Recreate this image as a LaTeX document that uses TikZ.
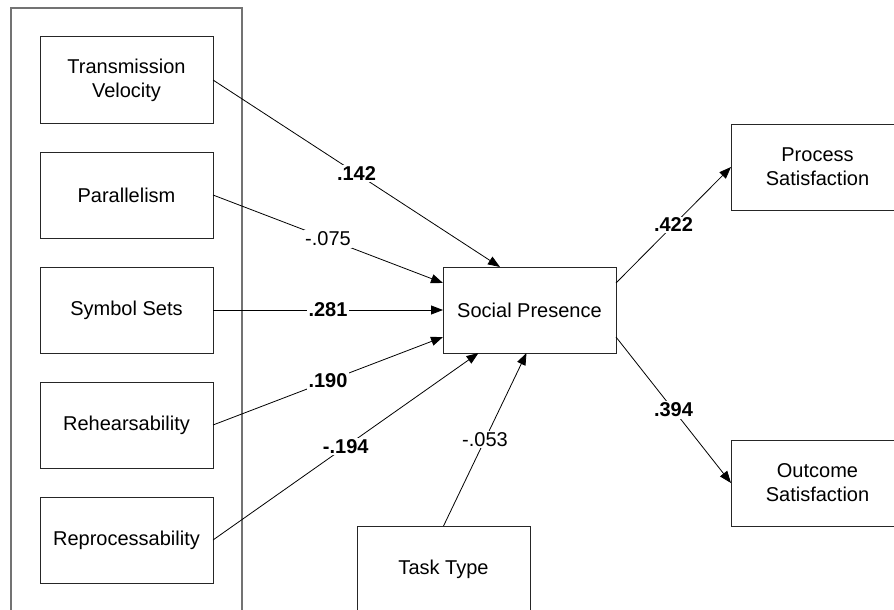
\documentclass[tikz,border=0pt]{standalone}
\usepackage{fontspec}
\setmainfont{Liberation Sans}
\usetikzlibrary{arrows.meta,fit,positioning}
\tikzset{
    %Define standard arrow tip
    >={Triangle[length=12pt,width=9pt]},
    %Define style for boxes
    construct/.style={
           rectangle,
           draw=black!85, line width=1pt,
           minimum width=173pt,
           minimum height=86pt,
           inner sep=0pt, outer sep=0pt,
           align=center,
           font=\fontsize{20}{24}\selectfont},
    %Define style for the surrounding frame
    mediaframe/.style={
           rectangle,
           draw=black!55, line width=1.4pt,
           inner sep=29pt},
    %Define style for path coefficients
    coef/.style={
           fill=white,
           inner sep=1.5pt,
           font=\fontsize{20}{24}\selectfont},
    coefbold/.style={
           coef,
           font=\fontsize{20}{24}\selectfont\bfseries},
    % Define arrow style
    link/.style={
           ->,
           line width=0.8pt,
           draw=black}
}
\begin{document}
\begin{tikzpicture}[node distance=29pt]
\useasboundingbox (0pt,0pt) rectangle (894pt,-610pt);
\clip (0pt,0pt) rectangle (894pt,-610pt);
 %nodes
\node[construct] (tv) at (126.5pt,-80pt) {Transmission\\Velocity};
\node[construct, below=of tv] (par) {Parallelism};
\node[construct, below=of par] (sym) {Symbol Sets};
\node[construct, below=of sym] (reh) {Rehearsability};
\node[construct, below=of reh] (rep) {Reprocessability};
\node[mediaframe, fit=(tv)(rep)] (media) {};
\node[construct, right=230pt of sym] (sp) {Social Presence};
\node[construct, above right=57pt and 115pt of sp] (ps) {Process\\Satisfaction};
\node[construct, below right=87pt and 115pt of sp] (os) {Outcome\\Satisfaction};
\node[construct, below=173pt of sp, xshift=-86pt] (task) {Task Type};
 %paths
\path[every edge/.style={link}]
    (tv.east) edge node[coefbold]{.142} ([xshift=-29.5pt]sp.north)
    (par.east) edge node[coef]{-.075} ([yshift=27pt]sp.west)
    (sym.east) edge node[coefbold]{.281} (sp.west)
    (reh.east) edge node[coefbold]{.190} ([yshift=-27pt]sp.west)
    (rep.east) edge node[coefbold]{-.194} ([xshift=-51pt]sp.south)
    (task.north) edge node[coef]{-.053} ([xshift=-3pt]sp.south)
    ([yshift=27pt]sp.east) edge node[coefbold]{.422} (ps.west)
    ([yshift=-27pt]sp.east) edge node[coefbold]{.394} (os.west);
\end{tikzpicture}
\end{document}
